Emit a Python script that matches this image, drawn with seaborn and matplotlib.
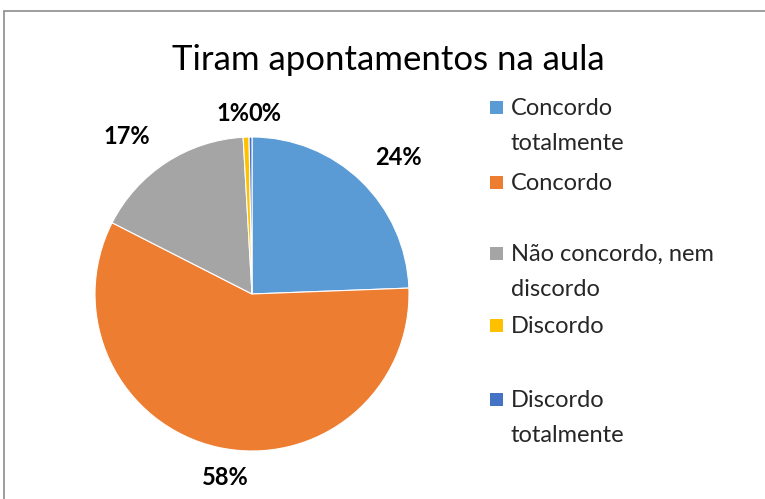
"""Pie chart: Tiram apontamentos na aula."""

import matplotlib

matplotlib.use("Agg")
import matplotlib.pyplot as plt
from matplotlib.patches import Rectangle
import seaborn as sns

sns.set_style("white")
plt.rcParams["font.family"] = ["Lato", "DejaVu Sans"]

title = "Tiram apontamentos na aula"
categories = [
    "Concordo\ntotalmente",
    "Concordo",
    "Não concordo, nem\ndiscordo",
    "Discordo",
    "Discordo\ntotalmente",
]
shares = [24.4, 58.1, 16.6, 0.6, 0.3]
colors = ["#5B9BD5", "#ED7D31", "#A5A5A5", "#FFC000", "#4472C4"]

# label positions in pie-radius units (Excel "best fit" placement)
label_pos = [(0.93, 0.87), (-0.17, -1.17), (-0.80, 1.00), (-0.12, 1.15), (0.085, 1.15)]

W, H = 765, 499
CX, CY, R = 252, 294, 157

fig = plt.figure(figsize=(W / 100, H / 100), dpi=100)
ax = fig.add_axes([0, 0, 1, 1])

wedges, _ = ax.pie(
    shares,
    colors=colors,
    startangle=90,
    counterclock=False,
    radius=1.0,
    wedgeprops={"edgecolor": "white", "linewidth": 0.8},
)
ax.set_aspect("auto")
ax.set_xlim(-CX / R, (W - CX) / R)
ax.set_ylim(-(H - CY) / R, CY / R)
ax.axis("off")

for (x, y), v in zip(label_pos, shares):
    ax.text(x, y, f"{v:.0f}%", ha="center", va="center",
            fontsize=17, fontweight="bold", color="#000000")

fig.text(388 / W, 1 - 60 / H, title, ha="center", va="center", fontsize=25, color="#000000")

# legend drawn by hand so the swatch sits on the first text line
leg_y = [107, 182, 253, 325, 399]
for lab, col, py in zip(categories, colors, leg_y):
    fig.add_artist(Rectangle((490 / W, 1 - (py + 7) / H), 13 / W, 13 / H,
                             transform=fig.transFigure, facecolor=col,
                             edgecolor="none", zorder=5))
    fig.text(511 / W, 1 - (py - 9) / H, lab, ha="left", va="top",
             fontsize=17, color="#262626", linespacing=1.82)

# chart area border
fig.add_artist(Rectangle((4 / W, -0.1), 1.2, 1.1 - 11 / H, transform=fig.transFigure,
                         facecolor="none", edgecolor="#8c8c8c", linewidth=1.2, zorder=6))

fig.savefig("out.png", dpi=100)
